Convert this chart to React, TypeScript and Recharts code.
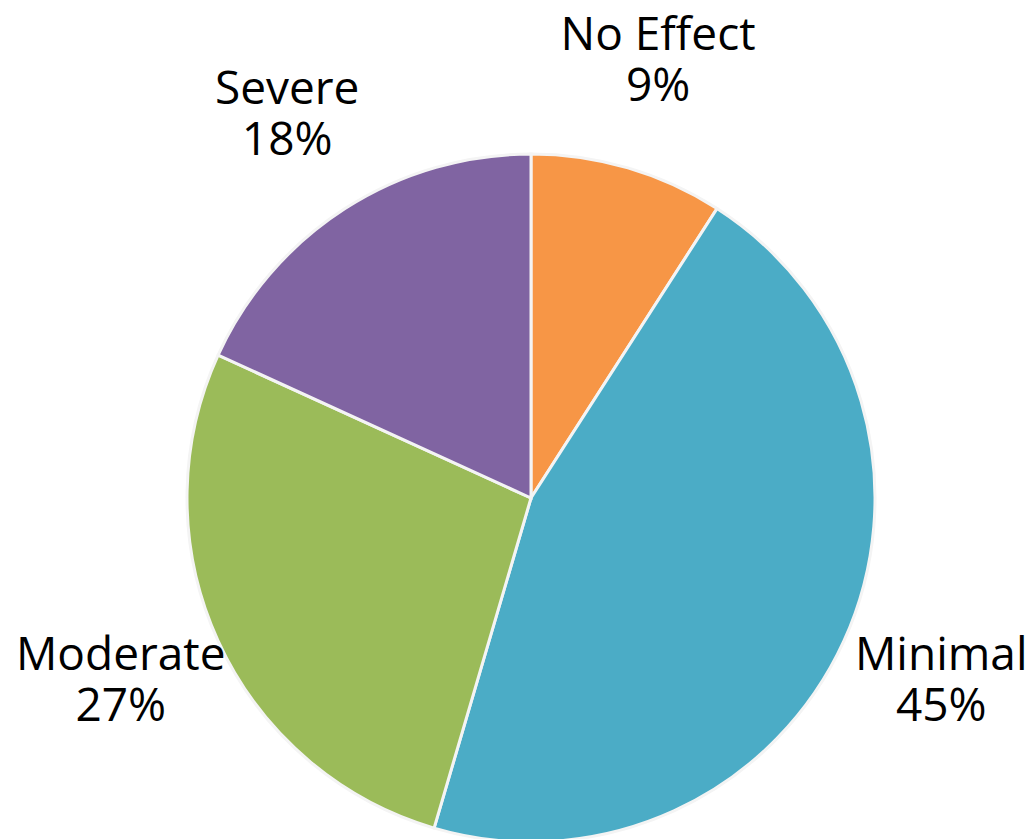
import { PieChart, Pie, Cell } from 'recharts';

const categories = ['No Effect', 'Minimal', 'Moderate', 'Severe'];
const values = [9, 45, 27, 18];
const colors = ['#F79646', '#4BACC6', '#9BBB59', '#8064A2'];

const data = categories.map((name, i) => ({ name, value: values[i] }));

const RADIAN = Math.PI / 180;

const renderLabel = (props: any) => {
  const { cx, cy, midAngle, index } = props;
  const r = 451;
  const x = cx + r * Math.cos(-midAngle * RADIAN);
  const y = cy + r * Math.sin(-midAngle * RADIAN);
  return (
    <text
      x={x}
      y={y}
      textAnchor="middle"
      fill="#000"
      fontSize={46}
      fontFamily="'Open Sans', sans-serif"
    >
      <tspan x={x} dy={-15}>{categories[index]}</tspan>
      <tspan x={x} dy={51}>{values[index]}%</tspan>
    </text>
  );
};

const App = () => {
  return (
    <div style={{ position: 'absolute', left: 0, top: 0 }}>
      <PieChart width={1033} height={839} margin={{ top: 0, right: 0, bottom: 0, left: 0 }}>
        <Pie
          data={data}
          dataKey="value"
          cx={531}
          cy={498}
          outerRadius={344}
          startAngle={90}
          endAngle={-270}
          stroke="#f4f4f4"
          strokeWidth={3}
          label={renderLabel}
          labelLine={false}
          isAnimationActive={false}
        >
          {data.map((entry, index) => (
            <Cell key={`cell-${index}`} fill={colors[index]} />
          ))}
        </Pie>
      </PieChart>
    </div>
  );
};

export default App;
